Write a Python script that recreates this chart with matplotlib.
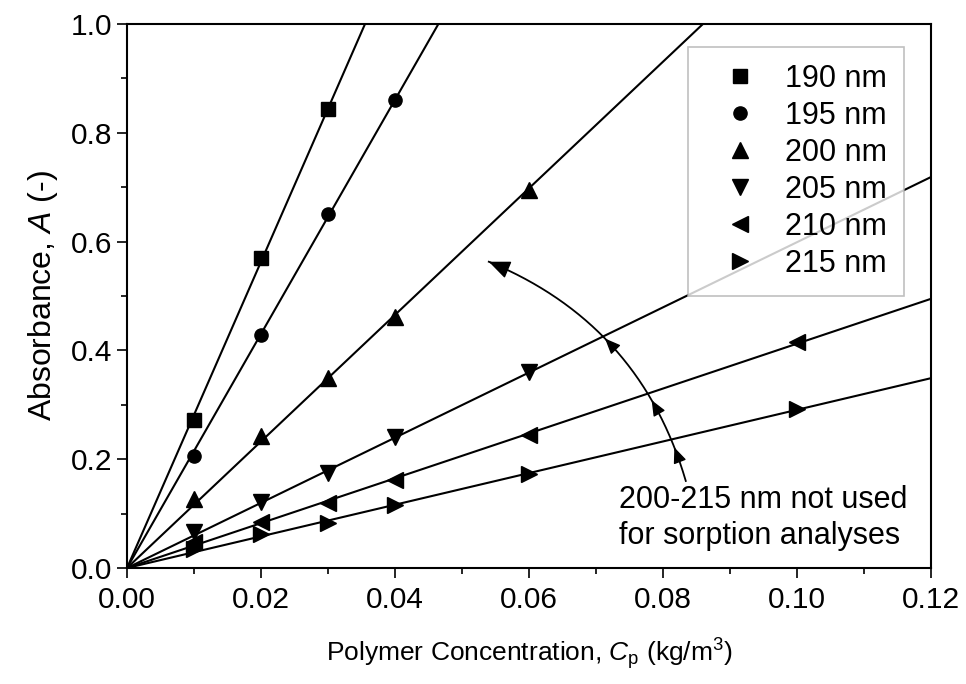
import numpy as np
import matplotlib
matplotlib.use('Agg')
import matplotlib.pyplot as plt

plt.rcParams['font.family'] = ['Liberation Sans', 'DejaVu Sans']
plt.rcParams['mathtext.fontset'] = 'custom'
plt.rcParams['mathtext.it'] = 'Liberation Sans:italic'
plt.rcParams['mathtext.rm'] = 'Liberation Sans'

# measured absorbance at each wavelength
labels = ['190 nm', '195 nm', '200 nm', '205 nm', '210 nm', '215 nm']
markers = ['s', 'o', '^', 'v', '<', '>']

x_190 = [0.01, 0.02, 0.03]
a_190 = [0.272, 0.570, 0.843]
x_195 = [0.01, 0.02, 0.03, 0.04]
a_195 = [0.205, 0.428, 0.650, 0.861]
x_200 = [0.01, 0.02, 0.03, 0.04, 0.06]
a_200 = [0.127, 0.243, 0.349, 0.462, 0.695]
x_205 = [0.01, 0.02, 0.03, 0.04, 0.06]
a_205 = [0.067, 0.122, 0.174, 0.240, 0.360]
x_210 = [0.01, 0.02, 0.03, 0.04, 0.06, 0.10]
a_210 = [0.047, 0.085, 0.120, 0.162, 0.245, 0.415]
x_215 = [0.01, 0.02, 0.03, 0.04, 0.06, 0.10]
a_215 = [0.035, 0.062, 0.082, 0.115, 0.172, 0.293]

xs = [x_190, x_195, x_200, x_205, x_210, x_215]
ys = [a_190, a_195, a_200, a_205, a_210, a_215]

note = '200-215 nm not used\nfor sorption analyses'

fig = plt.figure(figsize=(9.66, 6.84), dpi=100)
ax = fig.add_axes([127 / 966, 1 - 568 / 684, 804 / 966, 544 / 684])

xfit = np.array([0.0, 0.12])
for x, y, m, lab in zip(xs, ys, markers, labels):
    x = np.array(x)
    y = np.array(y)
    k = np.sum(x * y) / np.sum(x * x)  # fit through origin
    ax.plot(xfit, k * xfit, color='black', lw=1.5, zorder=2)
    ms = 9.5 if m in ('s', 'o') else 12
    ax.plot(x, y, linestyle='none', marker=m, ms=ms, color='black',
            label=lab, zorder=3)

ax.set_xlim(0, 0.12)
ax.set_ylim(0, 1.0)
ax.set_xticks(np.arange(0, 0.121, 0.02))
ax.set_xticks(np.arange(0, 0.121, 0.01), minor=True)
ax.set_yticks(np.arange(0, 1.01, 0.2))
ax.set_yticks(np.arange(0, 1.01, 0.1), minor=True)
ax.xaxis.set_major_formatter(plt.FormatStrFormatter('%.2f'))
ax.yaxis.set_major_formatter(plt.FormatStrFormatter('%.1f'))
ax.tick_params(which='major', direction='out', length=7, width=1.2,
               labelsize=21.5, colors='black')
ax.tick_params(which='minor', direction='out', length=4, width=1.2)
ax.tick_params(axis='x', pad=6)
for s in ax.spines.values():
    s.set_linewidth(1.5)

ax.set_xlabel(r'Polymer Concentration, $\mathit{C}_{\mathrm{p}}$ (kg/m$^{3}$)',
              fontsize=19, labelpad=16)
ax.set_ylabel(r'Absorbance, $\mathit{A}$ (-)', fontsize=23, labelpad=8)

leg = ax.legend(loc='upper right', bbox_to_anchor=(0.966, 0.958),
                borderaxespad=0, fontsize=22, frameon=True, fancybox=False,
                handlelength=2.3, handletextpad=0.33, labelspacing=0.23,
                borderpad=0.55, markerscale=1.0)
leg.get_frame().set_edgecolor('#b0b0b0')
leg.get_frame().set_linewidth(1.2)

# curved arrow from the note to the 200 nm line, with heads where it crosses
fig.canvas.draw()
tail = ax.transData.transform((0.0834, 0.160))
head = ax.transData.transform((0.0540, 0.563))
mid = (tail + head) / 2
d = head - tail
ctrl = mid + 0.24 * np.array([d[1], -d[0]])
t = np.linspace(0, 1, 200)[:, None]
curve = (1 - t) ** 2 * tail + 2 * t * (1 - t) * ctrl + t ** 2 * head
curve_data = ax.transData.inverted().transform(curve)
ax.plot(curve_data[:, 0], curve_data[:, 1], color='black', lw=1.3, zorder=4)
for i, sz in [(22, 0.5), (56, 0.5), (108, 0.5), (199, 0.7)]:
    ax.annotate('', xy=curve_data[i], xytext=curve_data[i - 3],
                arrowprops=dict(arrowstyle='-|>,head_length=%.2f,head_width=%.2f'
                                % (sz * 1.9, sz * 0.8),
                                color='black', lw=1.0, shrinkA=0, shrinkB=0),
                zorder=5)

ax.text(0.0735, 0.092, note, fontsize=22, ha='left', va='center',
        linespacing=1.25)

fig.savefig('out.png', dpi=100)
